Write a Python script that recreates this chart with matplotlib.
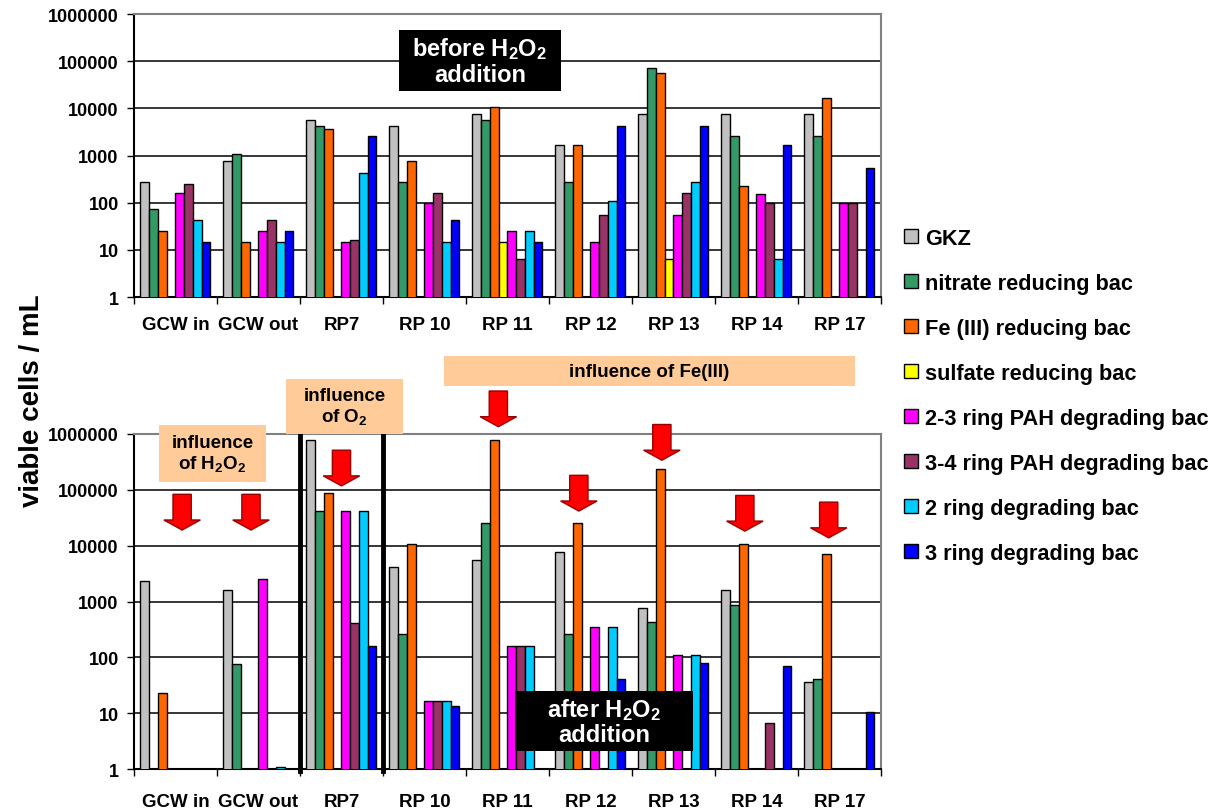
import matplotlib
matplotlib.use("Agg")
import matplotlib.pyplot as plt
import matplotlib.patches as mpatches
import numpy as np

plt.rcParams['font.family'] = ['Liberation Sans', 'DejaVu Sans']
plt.rcParams['font.weight'] = 'bold'
plt.rcParams['mathtext.fontset'] = 'custom'
plt.rcParams['mathtext.rm'] = 'Liberation Sans:bold'
plt.rcParams['mathtext.it'] = 'Liberation Sans:bold'
plt.rcParams['mathtext.bf'] = 'Liberation Sans:bold'

# ---------------------------------------------------------------- data
sites = ["GCW in", "GCW out", "RP7", "RP 10", "RP 11", "RP 12", "RP 13", "RP 14", "RP 17"]
groups = ["GKZ", "nitrate reducing bac", "Fe (III) reducing bac", "sulfate reducing bac",
          "2-3 ring PAH degrading bac", "3-4 ring PAH degrading bac",
          "2 ring degrading bac", "3 ring degrading bac"]
colors = ["#C0C0C0", "#339966", "#FF6600", "#FFFF00", "#FF00FF", "#993366", "#00CCFF", "#0000FF"]

N = None
# before H2O2 addition (one list per bacteria group, over sites)
before_gkz     = [270, 770, 5700, 4300, 7600, 1660, 7600, 7600, 7600]
before_nitrate = [74, 1090, 4300, 270, 5600, 270, 72000, 2600, 2600]
before_fe      = [25, 14.5, 3600, 770, 10800, 1660, 55000, 230, 16300]
before_sulfate = [N, N, N, N, 14.5, N, 6.5, N, N]
before_pah23   = [160, 25, 14.5, 100, 25, 14.5, 56, 156, 100]
before_pah34   = [250, 42, 16, 160, 6.5, 56, 160, 100, 100]
before_ring2   = [42, 14.5, 430, 14.5, 25, 108, 270, 6.5, N]
before_ring3   = [14.5, 25, 2600, 42, 14.5, 4300, 4300, 1660, 550]

# after H2O2 addition
after_gkz     = [2340, 1630, 775000, 4160, 5500, 7800, 755, 1630, 36]
after_nitrate = [N, 77, 42400, 260, 25800, 260, 424, 880, 41]
after_fe      = [23, N, 88000, 10900, 775000, 25800, 234000, 10900, 7100]
after_sulfate = [N, N, N, N, N, N, N, N, N]
after_pah23   = [N, 2540, 42400, 16.3, 160, 345, 109, N, N]
after_pah34   = [N, N, 418, 16.3, 160, N, N, 6.6, N]
after_ring2   = [N, 1.09, 42400, 16.3, 160, 345, 109, N, N]
after_ring3   = [N, N, 160, 13.6, N, 41, 78, 71, 10.6]

before = [before_gkz, before_nitrate, before_fe, before_sulfate,
          before_pah23, before_pah34, before_ring2, before_ring3]
after = [after_gkz, after_nitrate, after_fe, after_sulfate,
         after_pah23, after_pah34, after_ring2, after_ring3]

# red arrows (bottom panel): x position and log10 of tip
arrow_x = [0.08, 0.91, 2.0, 3.89, 4.86, 5.86, 6.86, 7.87]
arrow_tip = [4.28, 4.28, 5.07, 6.13, 4.62, 5.53, 4.26, 4.14]

# ---------------------------------------------------------------- figure
fig = plt.figure(figsize=(12.18, 8.12), dpi=100)
ax1 = fig.add_axes([0.110, 0.633, 0.6133, 0.3485])
ax2 = fig.add_axes([0.110, 0.0517, 0.6133, 0.4126])

x = np.arange(len(sites))
w = 0.1054


def draw_panel(ax, data, pad):
    ax.set_yscale('log')
    handles = []
    for j, vals in enumerate(data):
        v = np.array([np.nan if a is None else a for a in vals], dtype=float)
        b = ax.bar(x + (j - 3.5) * w, v, w, color=colors[j], edgecolor='black',
                   linewidth=1.0, zorder=3, label=groups[j])
        handles.append(b)
    ax.set_ylim(1, 1e6)
    ax.set_xlim(-0.5, len(sites) - 0.5)
    ax.set_yticks([1, 10, 100, 1000, 10000, 100000, 1000000])
    ax.set_yticklabels(["1", "10", "100", "1000", "10000", "100000", "1000000"])
    ax.minorticks_off()
    ax.yaxis.grid(True, color='black', linewidth=1.1, zorder=0)
    ax.set_axisbelow(True)
    ax.tick_params(axis='y', direction='out', length=5, width=1, labelsize=13, pad=6)
    ax.set_xticks(np.arange(-0.5, len(sites), 1))
    ax.set_xticklabels([])
    ax.set_xticks(x, minor=True)
    ax.set_xticklabels(sites, minor=True, fontsize=13.5, fontweight='bold')
    ax.tick_params(axis='x', which='major', direction='out', length=5, width=1)
    ax.tick_params(axis='x', which='minor', length=0, pad=pad)
    for s in ['top', 'right']:
        ax.spines[s].set_color('#808080')
        ax.spines[s].set_linewidth(1.5)
    for s in ['left', 'bottom']:
        ax.spines[s].set_color('black')
        ax.spines[s].set_linewidth(1.5)
    return handles


handles = draw_panel(ax1, before, 14)
draw_panel(ax2, after, 17)

# thick separators around RP7
for xs in [1.5, 2.5]:
    ax2.axvline(xs, ymin=-0.005, ymax=1.01, color='black', linewidth=3.5,
                zorder=6, clip_on=False)

# red arrows pointing at Fe(III) bars
shaft_w, head_w, head_len, length = 0.11, 0.22, 0.18, 0.64
for ax_, tip in zip(arrow_x, arrow_tip):
    top = tip + length
    hb = tip + head_len
    verts = [(ax_ - shaft_w, 10 ** top), (ax_ + shaft_w, 10 ** top),
             (ax_ + shaft_w, 10 ** hb), (ax_ + head_w, 10 ** hb),
             (ax_, 10 ** tip), (ax_ - head_w, 10 ** hb),
             (ax_ - shaft_w, 10 ** hb)]
    ax2.add_patch(mpatches.Polygon(verts, closed=True, facecolor='#FF0000',
                                   edgecolor='#990000', linewidth=1.0,
                                   zorder=7, clip_on=False))


def box(x0, y0, x1, y1, color, text, tcolor, size):
    fig.patches.append(mpatches.Rectangle((x0, y0), x1 - x0, y1 - y0,
                                          transform=fig.transFigure,
                                          facecolor=color, edgecolor='none',
                                          zorder=8))
    fig.text((x0 + x1) / 2, (y0 + y1) / 2, text, color=tcolor, fontsize=size,
             fontweight='bold', ha='center', va='center', zorder=9,
             linespacing=1.1)


box(0.3276, 0.8867, 0.4606, 0.9618, 'black', "before H$_2$O$_2$\naddition", 'white', 17)
box(0.4228, 0.0739, 0.5690, 0.1478, 'black', "after H$_2$O$_2$\naddition", 'white', 17)
box(0.3645, 0.5234, 0.7020, 0.5603, '#FFCC99', "influence of Fe(III)", 'black', 13.5)
box(0.2348, 0.4643, 0.3309, 0.5320, '#FFCC99', "influence\nof O$_2$", 'black', 13.5)
box(0.1305, 0.4052, 0.2184, 0.4754, '#FFCC99', "influence\nof H$_2$O$_2$", 'black', 13.5)

fig.text(0.026, 0.507, "viable cells / mL", rotation=90, fontsize=20,
         fontweight='bold', ha='center', va='center')

fig.legend(handles, groups, loc='upper left', bbox_to_anchor=(0.735, 0.729),
           frameon=False, fontsize=15.7, labelspacing=1.1, handlelength=0.65,
           handleheight=0.65, handletextpad=0.3, borderaxespad=0)

fig.savefig("out.png", dpi=100)
